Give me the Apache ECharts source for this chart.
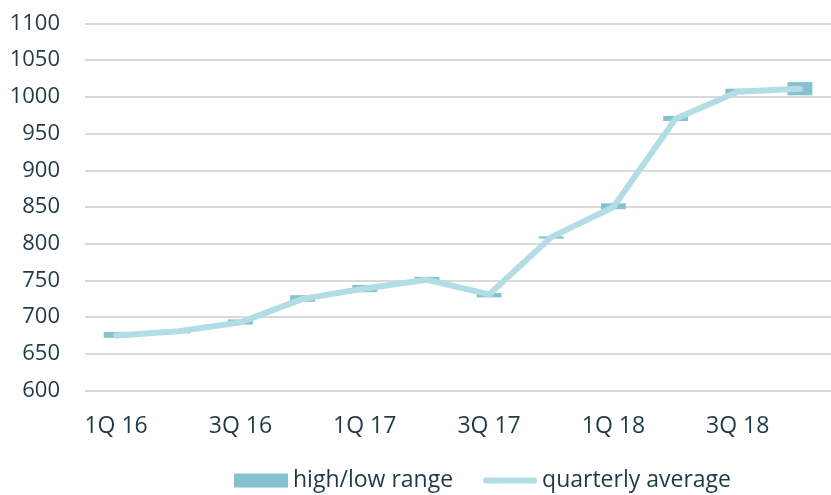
<!DOCTYPE html>
<html>
<head>
<meta charset="utf-8">
<script src="https://cdn.jsdelivr.net/npm/echarts@6/dist/echarts.min.js"></script>
<style>html,body{margin:0;padding:0;background:#fff;}#c{width:831px;height:495px;}</style>
</head>
<body>
<div id="c"></div>
<script>
var categories = ['1Q 16','2Q 16','3Q 16','4Q 16','1Q 17','2Q 17','3Q 17','4Q 17','1Q 18','2Q 18','3Q 18','4Q 18'];
var highs = [680, 684, 697, 730, 744, 755, 733, 810, 855, 974, 1011, 1020];
var lows  = [672, 678, 690, 721, 734, 749, 727, 807, 847, 967, 1004, 1002];
var averages = [675, 681, 693, 725, 739, 751, 731, 809, 850, 970, 1007, 1011];
var yTicks = {min: 600, max: 1100, interval: 50};

var ranges = highs.map(function (h, i) { return h - lows[i]; });
var textColor = '#1F3A45';
var font = 'Open Sans';

var chart = echarts.init(document.getElementById('c'));
chart.setOption({
  animation: false,
  grid: {left: 85, top: 23.3, width: 756, bottom: 104.3, containLabel: false},
  legend: {
    data: [
      {name: 'high/low range', icon: 'rect'},
      {name: 'quarterly average', icon: 'path://M3,0 L53,0 A3,3 0 0 1 53,6 L3,6 A3,3 0 0 1 3,0 Z'}
    ],
    top: 469, left: 234, padding: 0,
    itemWidth: 54, itemHeight: 14, itemGap: 30,
    textStyle: {color: textColor, fontSize: 23, fontFamily: font}
  },
  xAxis: {
    type: 'category', data: categories,
    axisLine: {show: false}, axisTick: {show: false},
    axisLabel: {interval: 1, color: textColor, fontSize: 23, fontFamily: font, margin: 24}
  },
  yAxis: {
    type: 'value', min: yTicks.min, max: yTicks.max, interval: yTicks.interval,
    axisLine: {show: false}, axisTick: {show: false},
    axisLabel: {color: textColor, fontSize: 22, fontFamily: font, margin: 25,
      formatter: function (v) { return String(v); }},
    splitLine: {lineStyle: {color: '#D9D9D9', width: 2}}
  },
  series: [
    {name: 'base', type: 'bar', stack: 'r', data: lows, barWidth: '40%',
     itemStyle: {color: 'rgba(0,0,0,0)'}, silent: true},
    {name: 'high/low range', type: 'bar', stack: 'r', data: ranges, barWidth: '40%',
     itemStyle: {color: '#86C1D0'}},
    {name: 'quarterly average', type: 'line', data: averages, symbol: 'none',
     lineStyle: {color: '#B2DDE4', width: 6, cap: 'round', join: 'round'},
     itemStyle: {color: '#B2DDE4'}, z: 5}
  ]
});
</script>
</body>
</html>
